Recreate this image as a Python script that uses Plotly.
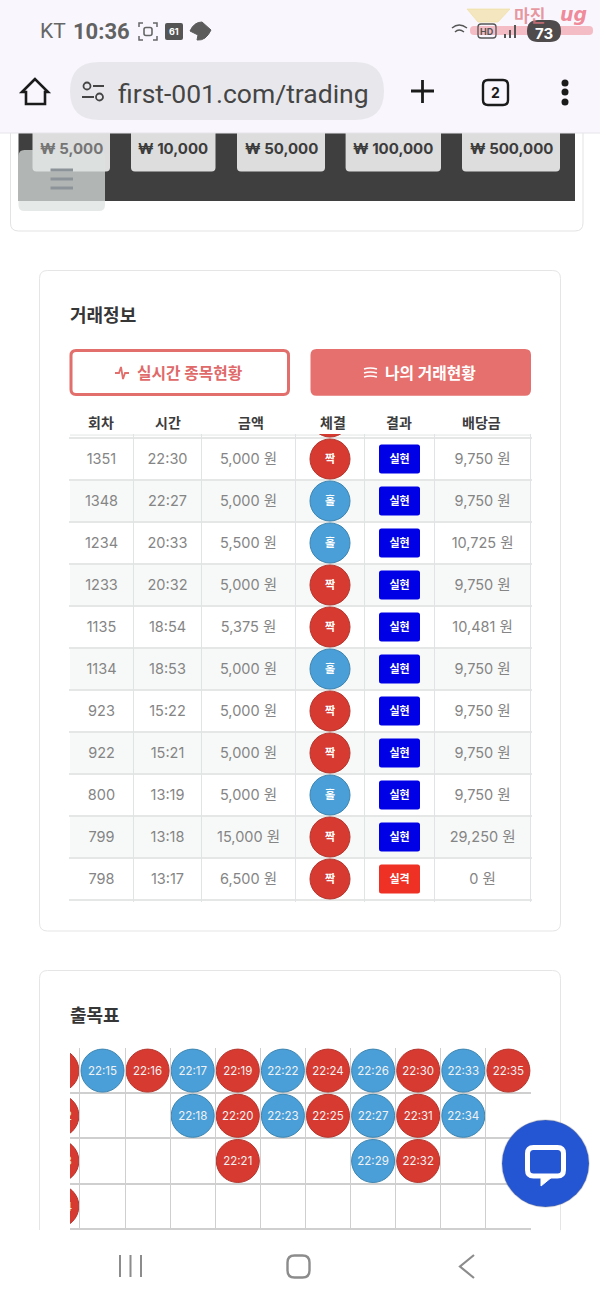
import plotly.graph_objects as go

# ---------- data ----------
rounds = ["1351","1348","1234","1233","1135","1134","923","922","800","799","798"]
times = ["22:30","22:27","20:33","20:32","18:54","18:53","15:22","15:21","13:19","13:18","13:17"]
amounts = ["5,000 원","5,000 원","5,500 원","5,000 원","5,375 원","5,000 원","5,000 원","5,000 원","5,000 원","15,000 원","6,500 원"]
picks = ["짝","홀","홀","짝","짝","홀","짝","짝","홀","짝","짝"]
results = ["실현"]*10 + ["실격"]
payouts = ["9,750 원","9,750 원","10,725 원","9,750 원","10,481 원","9,750 원","9,750 원","9,750 원","9,750 원","29,250 원","0 원"]
headers = ["회차","시간","금액","체결","결과","배당금"]
chips = ["₩ 5,000","₩ 10,000","₩ 50,000","₩ 100,000","₩ 500,000"]
road = [  # (side, times top-to-bottom), one entry per column
    ("짝",["22:11","22:12","22:13","22:14"]),
    ("홀",["22:15"]),
    ("짝",["22:16"]),
    ("홀",["22:17","22:18"]),
    ("짝",["22:19","22:20","22:21"]),
    ("홀",["22:22","22:23"]),
    ("짝",["22:24","22:25"]),
    ("홀",["22:26","22:27","22:29"]),
    ("짝",["22:30","22:31","22:32"]),
    ("홀",["22:33","22:34"]),
    ("짝",["22:35"]),
]

# ---------- style ----------
W,H = 600,1300
RED,RED_L = "#d63a30","#b5372f"
BLUE,BLUE_L = "#4a9fd8","#3d85b0"
KR = "Noto Sans CJK KR"
LAT = "Inter, Noto Sans CJK KR"
col_edges = [70,133.7,201.7,295.7,364.3,434.7,530.7]
col_centres = [101.5,167.5,248.5,330,399.5,482.6]
head_x = [101,168,251,333,399,481]
chip_boxes = [(32.5,110),(131,215.5),(237,325),(345.6,441),(462,560)]

def rr(x0,y0,x1,y1,r):
    return (f"M{x0+r},{y0} L{x1-r},{y0} Q{x1},{y0} {x1},{y0+r} L{x1},{y1-r} Q{x1},{y1} {x1-r},{y1} "
            f"L{x0+r},{y1} Q{x0},{y1} {x0},{y1-r} L{x0},{y0+r} Q{x0},{y0} {x0+r},{y0} Z")

shapes=[]; ann=[]
def box(x0,y0,x1,y1,r=0,fill=None,line=None,lw=1,layer="below"):
    shapes.append(dict(type="path",path=rr(x0,y0,x1,y1,r),xref="x",yref="y",layer=layer,
        fillcolor=fill or "rgba(0,0,0,0)",line=dict(color=line or "rgba(0,0,0,0)",width=lw if line else 0)))
def seg(path,color,lw=2,layer="below",fill=None):
    shapes.append(dict(type="path",path=path,xref="x",yref="y",layer=layer,
        fillcolor=fill or "rgba(0,0,0,0)",line=dict(color=color,width=lw)))
def dot(cx,cy,r,fill=None,line=None,lw=1):
    shapes.append(dict(type="circle",x0=cx-r,x1=cx+r,y0=cy-r,y1=cy+r,xref="x",yref="y",layer="below",
        fillcolor=fill or "rgba(0,0,0,0)",line=dict(color=line or "rgba(0,0,0,0)",width=lw if line else 0)))
def txt(x,y,s,size,color,bold=False,anchor="center",font=KR):
    ann.append(dict(x=x,y=y,xref="x",yref="y",text=f"<b>{s}</b>" if bold else s,showarrow=False,
        xanchor=anchor,yanchor="middle",font=dict(size=size,color=color,family=font)))

# top card
box(10.5,100,583,231,8,"#ffffff","#e3e3e3")
box(18.5,133,575,201,0,"#3f3f3f")
for (a,b),c in zip(chip_boxes,chips):
    box(a,120,b,171.5,4,"#dddddd")
    txt((a+b)/2,148.5,c,15,"#3c3c3c" if c!=chips[0] else "#757575",True,font=LAT)
box(18.5,150,105,211,6,"rgba(219,225,222,0.73)")
for y in (170,179,188):
    seg(f"M50.5,{y} L73,{y}","#8d9499",3)

# browser chrome
box(0,0,600,133,0,"#f9f7fd")
seg("M0,133 L600,133","#e6e4ea",1)
txt(38,31,"KT",21,"#666666",False,"left",font="Roboto")
txt(71,31,"10:36",22,"#626262",True,"left",font="Roboto")
seg("M139,27 L139,23 L143,23 M153,23 L157,23 L157,27 M157,36 L157,40 L153,40 M143,40 L139,40 L139,36","#666666",1.5)
box(144,27.5,152,35.5,2,None,"#666666",1.6)
box(165,23,183,40,2,"#555555")
txt(174,31,"61",9,"#ffffff",True,font=LAT)
seg("M190,31 Q194,22 202,22 L211,30 Q206,41 197,40 L198,35 Z","#5c5c5c",1,fill="#5c5c5c")
# watermark
box(470,26,593,35,4,"rgba(240,140,150,0.55)")
seg("M467,9 L510,9 L498,22 L478,22 Z","rgba(240,220,150,0.6)",1,fill="rgba(240,220,150,0.6)")
txt(529,14,"마진",17,"rgba(225,120,130,0.75)",True)
ann.append(dict(x=573,y=14,xref="x",yref="y",text="<b><i>ug</i></b>",showarrow=False,xanchor="center",yanchor="middle",
                font=dict(size=19,color="rgba(235,90,110,0.7)",family="DejaVu Sans")))
# status icons
seg("M452,28 Q459,22 467,28 M455,32 Q459,28 464,32","#555555",1.4)
box(478,24,496,38,3,None,"#555555",1.3)
txt(487,31,"HD",9,"#555555",True,font=LAT)
seg("M505,38 L505,34 M510,38 L510,30 M515,38 L515,25","#555555",2)
box(527,20,561,42,11,"#4f4a4c")
txt(544,33,"73",15,"#ffffff",True,font=LAT)
# url bar
box(70,62,384,120,29,"#e8e8ec")
seg("M35,79 L22,92 L26,92 L26,104 L45,104 L45,92 L48,92 Z","#1b1b1b",2.6)
seg("M93,86 L104,86 M82,97 L94,97","#444444",2)
dot(87,86,3.5,None,"#444444",1.8)
dot(99.5,97,3.5,None,"#444444",1.8)
txt(116,93,"first-001.com/trading",26.5,"#454545",False,"left",font="Roboto")
seg("M411,91 L434,91 M422.5,80 L422.5,103","#1b1b1b",2.8)
box(483,80,508,105,5,None,"#1b1b1b",2.4)
txt(495.5,92.5,"2",14,"#1b1b1b",True,font=LAT)
for y in (83,92,102):
    dot(565,y,3.5,"#1b1b1b")

# card 2: trading info
box(39.5,270.5,560.5,931,8,"#ffffff","#e5e5e5")
txt(67.5,314,"거래정보",18,"#363636",True,"left")
box(71,350.5,288.5,394.5,5,"#ffffff","#e26f6c",3)
seg("M115,373 L119,373 L121,367 L123,379 L125,373 L129,373","#e26f6c",1.8)
txt(190,372.5,"실시간 종목현황",15.8,"#e0696a",True)
box(310.5,349,531,395.7,6,"#e5706d")
seg("M364,369 Q370,367 377,369 M364,373 Q370,371 377,373 M364,377 Q370,375 377,377","#ffffff",1.4)
txt(430.5,372.5,"나의 거래현황",15.8,"#ffffff",True)
for x,h in zip(head_x,headers):
    txt(x,422,h,14,"#3c3c3c",True)

# card 3: road
box(39.5,970.5,560.5,1245,8,"#ffffff","#e5e5e5")
txt(67.5,1014,"출목표",18,"#363636",True,"left")

# table helper shapes on the table axes
n = len(rounds)
for i in range(n):
    if i%2==1:
        shapes.append(dict(type="rect",xref="x2",yref="y2",x0=col_edges[0],x1=col_edges[-1],y0=i-.5,y1=i+.5,
                           layer="below",fillcolor="#f7f9f8",line=dict(width=0)))
shapes.append(dict(type="line",xref="x2",yref="y2",x0=col_edges[0],x1=col_edges[-1],y0=-.57,y1=-.57,layer="below",
                   line=dict(color="#e2e4e4",width=1)))
bw,bh=20.5,14.5
for i,res in enumerate(results):
    shapes.append(dict(type="path",xref="x2",yref="y2",xsizemode="pixel",ysizemode="pixel",
        xanchor=col_centres[4],yanchor=i,path=rr(-bw,-bh,bw,bh,2.5),layer="below",
        fillcolor="#0000e6" if res=="실현" else "#ee3124",line=dict(width=0)))

# floating chat button and bottom bar, drawn above the data
shapes.append(dict(type="circle",x0=502,x1=589,y0=1120,y1=1207,xref="x",yref="y",layer="above",
                   fillcolor="#2455d3",line=dict(color="rgba(120,120,120,0.25)",width=1.5)))
seg(rr(527.5,1147.5,563.5,1176,6),"#ffffff",5,"above")
seg("M541,1177 L541,1186 L552,1177 Z","#ffffff",1,"above",fill="#ffffff")
box(0,1230,600,1300,0,"#ffffff")
seg("M120,1255 L120,1277 M130.5,1255 L130.5,1277 M141,1255 L141,1277","#8c8c8c",2)
seg(rr(287.5,1255.5,309.5,1277.5,7),"#8c8c8c",2.4)
seg("M474,1255 L460,1266.5 L474,1278","#8c8c8c",2.2)

# ---------- traces ----------
fig = go.Figure()
def noax(): return dict(showticklabels=False,ticks="",showline=False,zeroline=False,showgrid=False)

# table discs
rows = list(range(n))
pick_rows = [-1]+rows
pick_vals = ["짝"]+picks
for side,fc,lc in (("짝",RED,RED_L),("홀",BLUE,BLUE_L)):
    idx=[i for i,p in zip(pick_rows,pick_vals) if p==side]
    fig.add_trace(go.Scatter(x=[col_centres[3]]*len(idx),y=idx,mode="markers",xaxis="x2",yaxis="y2",
        marker=dict(size=40,color=fc,line=dict(color=lc,width=1))))
# table texts sit on a second y axis, nudged down to the reference's baseline
for c,vals in enumerate([rounds,times,amounts,None,None,payouts]):
    if vals is None: continue
    fig.add_trace(go.Scatter(x=[col_centres[c]]*n,y=rows,text=vals,mode="text",xaxis="x2",yaxis="y4",
        textfont=dict(family=LAT,size=14.5,color="#858585"),textposition="middle center"))
fig.add_trace(go.Scatter(x=[col_centres[3]]*n,y=rows,text=picks,mode="text",xaxis="x2",yaxis="y4",
    textfont=dict(family=KR,size=11,color="#ffffff",weight="bold"),textposition="middle center"))
fig.add_trace(go.Scatter(x=[col_centres[4]]*n,y=rows,text=results,mode="text",xaxis="x2",yaxis="y4",
    textfont=dict(family=KR,size=11,color="#ffffff",weight="bold"),textposition="middle center"))

# road
for side,fc,lc in (("짝",RED,RED_L),("홀",BLUE,BLUE_L)):
    xs,ys,ts=[],[],[]
    for c,(s,col) in enumerate(road):
        if s!=side: continue
        for r,t in enumerate(col):
            xs.append(c-1); ys.append(r); ts.append(t)
    fig.add_trace(go.Scatter(x=xs,y=ys,mode="markers",xaxis="x3",yaxis="y3",
        marker=dict(size=43,color=fc,line=dict(color=lc,width=1))))
    fig.add_trace(go.Scatter(x=xs,y=ys,text=ts,mode="text",xaxis="x3",yaxis="y5",
        textfont=dict(family=LAT,size=11.5,color="#f2f2f2"),textposition="middle center"))

fx=lambda p:p/W
fy=lambda p:1-p/H
tbl_top,tbl_bot=434,902
rd_top,rd_bot,rd_l,rd_r=1048,1230,70,531
cw,rh=45.1,45.2
c0,r0=102.5,1070.6
nudge=1.5

fig.update_layout(
    width=W,height=H,margin=dict(l=0,r=0,t=0,b=0),showlegend=False,hovermode=False,
    paper_bgcolor="#ffffff",plot_bgcolor="rgba(0,0,0,0)",shapes=shapes,annotations=ann,
    xaxis=dict(noax(),domain=[0,1],range=[0,W]),
    yaxis=dict(noax(),domain=[0,1],range=[H,0]),
    xaxis2=dict(showticklabels=False,ticks="",zeroline=False,showline=False,anchor="y2",domain=[fx(col_edges[0]-1),fx(col_edges[-1]+1)],
        range=[col_edges[0]-1,col_edges[-1]+1],tickmode="array",tickvals=col_edges,showgrid=True,gridcolor="#e1e4e4",gridwidth=1),
    yaxis2=dict(showticklabels=False,ticks="",zeroline=False,showline=False,anchor="x2",domain=[fy(tbl_bot),fy(tbl_top)],
        range=[(tbl_bot-459)/42,(tbl_top-459)/42],tickmode="array",tickvals=[i-.5 for i in range(n+1)],showgrid=True,gridcolor="#e5e7e7",gridwidth=1.5),
    yaxis4=dict(noax(),anchor="x2",domain=[fy(tbl_bot),fy(tbl_top)],
        range=[(tbl_bot-459-nudge)/42,(tbl_top-459-nudge)/42]),
    xaxis3=dict(showticklabels=False,ticks="",zeroline=False,showline=False,anchor="y3",domain=[fx(rd_l),fx(rd_r)],
        range=[(rd_l-c0)/cw,(rd_r-c0)/cw],tickmode="array",tickvals=[i-.5 for i in range(10)],showgrid=True,gridcolor="#cfcfcf",gridwidth=1),
    yaxis3=dict(showticklabels=False,ticks="",zeroline=False,showline=False,anchor="x3",domain=[fy(rd_bot),fy(rd_top)],
        range=[(rd_bot-r0)/rh,(rd_top-r0)/rh],tickmode="array",tickvals=[.5,1.5,2.5,3.5],showgrid=True,gridcolor="#cfcfcf",gridwidth=1.5),
    yaxis5=dict(noax(),anchor="x3",domain=[fy(rd_bot),fy(rd_top)],
        range=[(rd_bot-r0-nudge)/rh,(rd_top-r0-nudge)/rh]),
)
fig.write_html("out.html",config=dict(displayModeBar=False),post_script="document.body.style.margin='0';")
